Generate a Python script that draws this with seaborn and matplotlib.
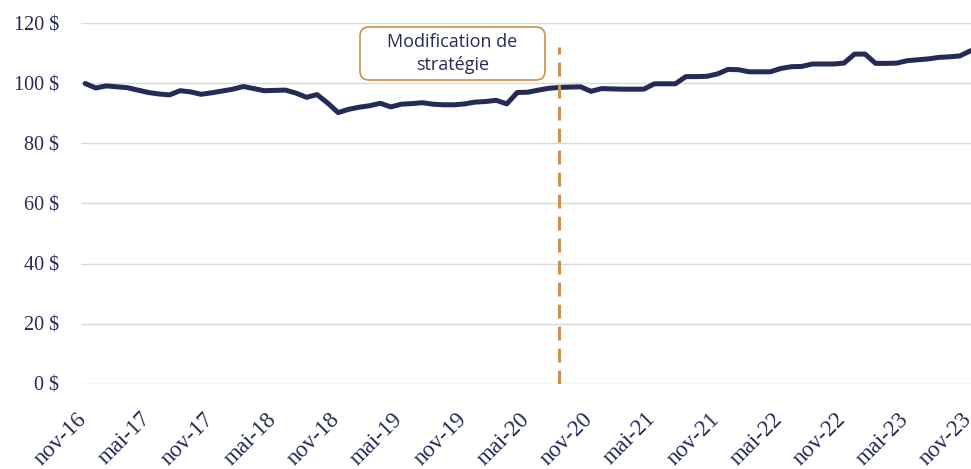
import numpy as np
import pandas as pd
import matplotlib
matplotlib.use("Agg")
import matplotlib.pyplot as plt
import matplotlib.transforms as mtransforms
from matplotlib.patches import FancyBboxPatch
import seaborn as sns

# ---- data ----
values = [
    100.0, 98.5, 99.2, 98.9, 98.6, 97.8, 97.0, 96.5, 96.2, 97.6, 97.2, 96.4,
    96.9, 97.5, 98.1, 99.0, 98.3, 97.6, 97.7, 97.8, 96.8, 95.4, 96.3, 93.5,
    90.3, 91.4, 92.1, 92.6, 93.4, 92.2, 93.1, 93.3, 93.6, 93.1, 92.9, 92.9,
    93.2, 93.8, 94.0, 94.4, 93.2, 97.0, 97.1, 97.8, 98.4, 98.7, 98.8, 98.9,
    97.4, 98.3, 98.2, 98.1, 98.1, 98.1, 99.9, 99.9, 99.9, 102.3, 102.3, 102.4,
    103.2, 104.7, 104.6, 103.9, 103.9, 103.9, 105.0, 105.6, 105.7, 106.5, 106.5, 106.5,
    106.8, 109.8, 109.8, 106.7, 106.7, 106.8, 107.6, 107.9, 108.2, 108.7, 108.9, 109.2,
    110.9,
]
tick_labels = ["nov-16", "mai-17", "nov-17", "mai-18", "nov-18", "mai-19", "nov-19",
               "mai-20", "nov-20", "mai-21", "nov-21", "mai-22", "nov-22", "mai-23", "nov-23"]
y_ticks = [0, 20, 40, 60, 80, 100, 120]
strategy_change_index = 45   # août-20
strategy_label = "Modification de\nstratégie"

df = pd.DataFrame({"t": np.arange(len(values)), "valeur": values})

NAVY = "#262A57"
TAN = "#C8914F"
GRID = "#D9D9D9"

sns.set_theme(style="white")
plt.rcParams["font.family"] = ["Liberation Serif", "DejaVu Serif"]

fig = plt.figure(figsize=(9.71, 4.69), dpi=100)
ax = fig.add_axes([81 / 971, 1 - 383.5 / 469, 890 / 971, 360 / 469])

ax.set_axisbelow(True)
ax.yaxis.grid(True, color=GRID, linewidth=1.0)
ax.xaxis.grid(False)

sns.lineplot(data=df, x="t", y="valeur", ax=ax, color=NAVY, linewidth=3.6,
             solid_joinstyle="round", solid_capstyle="round", zorder=3)

ax.vlines(strategy_change_index, 0, 112, colors=TAN, linewidth=2.2,
          linestyles=(0, (4.5, 2.7)), zorder=4)

ax.set_xlim(-0.4, 84.05)
ax.set_ylim(0, 120)
ax.set_yticks(y_ticks)
ax.set_yticklabels([f"{v} $" for v in y_ticks])
ax.set_xticks(np.arange(0, 6 * len(tick_labels), 6))
ax.set_xticklabels(tick_labels, rotation=45, ha="right", rotation_mode="anchor")
ax.tick_params(axis="y", length=0, pad=16, labelsize=14.5, labelcolor=NAVY)
ax.tick_params(axis="x", length=0, pad=18, labelsize=16.5, labelcolor=NAVY)
shift = mtransforms.ScaledTranslation(-9 / 100, 0, fig.dpi_scale_trans)
for lab in ax.get_xticklabels():
    lab.set_transform(lab.get_transform() + shift)
ax.set_xlabel("")
ax.set_ylabel("")
for s in ax.spines.values():
    s.set_visible(False)

# annotation box
box = FancyBboxPatch((3.60, 3.89), 1.85, 0.53,
                     boxstyle="round,pad=0,rounding_size=0.09",
                     transform=fig.dpi_scale_trans, facecolor="white",
                     edgecolor=TAN, linewidth=1.2, zorder=5)
fig.patches.append(box)
fig.text(4.525, 4.155, strategy_label, transform=fig.dpi_scale_trans,
         ha="center", va="center", fontsize=13, color=NAVY,
         family=["Open Sans", "DejaVu Sans"], linespacing=1.3, zorder=6)

fig.savefig("out.png", dpi=100)
